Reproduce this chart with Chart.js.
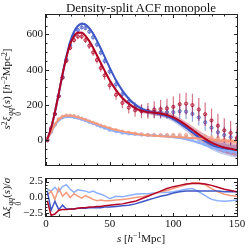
<!DOCTYPE html>
<html>
<head>
<meta charset="utf-8">
<script src="https://cdn.jsdelivr.net/npm/chart.js@4.4.0/dist/chart.umd.min.js"></script>
<style>
  html, body { margin: 0; padding: 0; background: #fff; }
  #wrap { position: relative; width: 249px; height: 249px; overflow: hidden;
          font-family: "Liberation Serif", "DejaVu Serif", serif; color: #111; }
  #top-canvas { position: absolute; left: 0; top: 0; }
  #bottom-canvas { position: absolute; left: 0; top: 170px; }
  .lbl { position: absolute; white-space: nowrap; font-size: 11px; line-height: 1; }
  .rot { transform: translate(-50%, -50%) rotate(-90deg); }
  .ctr { transform: translate(-50%, -50%); }
  .lbl sup { font-size: 0.7em; vertical-align: 0.5em; line-height: 0; }
  .ss { display: inline-flex; flex-direction: column; font-size: 0.7em; line-height: 0.95;
        vertical-align: -0.45em; margin-left: 1px; }
  #title { font-size: 13px; }
</style>
</head>
<body>
<div id="wrap">
  <canvas id="top-canvas" width="249" height="170"></canvas>
  <canvas id="bottom-canvas" width="249" height="79"></canvas>
  <div id="title" class="lbl ctr" style="left:141px; top:7px;">Density-split ACF monopole</div>
  <div class="lbl rot" style="left:12px; top:89px;"><i>s</i><sup>2</sup><i>ξ</i><span class="ss"><i>qq</i><span>0</span></span>(<i>s</i>) [<i>h</i><sup>−2</sup>Mpc<sup>2</sup>]</div>
  <div class="lbl rot" style="left:12px; top:198px;">Δ<i>ξ</i><span class="ss"><i>qq</i><span>0</span></span>(<i>s</i>)/<i>σ</i></div>
  <div class="lbl ctr" style="left:141px; top:238px;"><i>s</i> [<i>h</i><sup>−1</sup>Mpc]</div>
</div>
<script>
// separation bins (h^-1 Mpc)
const sGrid = [1,4,7,10,13,16,19,22,25,28,31,34,37,40,43,46,50,55,60,65,70,75,80,85,90,95,100,105,110,115,120,125,130,135,140,145,150];

// best-fit model, s^2 xi_0
const modelDS1 = [5,70,160,265,375,475,560,615,648,661,656,636,605,565,520,474,412,340,282,236,203,180,165,156,148,137,120,98,72,45,18,-5,-25,-40,-50,-58,-63];
const modelDS2 = [8,45,85,112,127,133,133,130,125,118,111,103,95,86,78,70,60,50,43,38,34,31,29,27,25,22,18,13,6,-3,-14,-26,-38,-48,-56,-62,-66];
const modelDS4 = [8,48,90,118,133,139,139,136,131,124,117,109,101,93,85,78,69,59,51,44,38,33,29,26,24,22,20,18,16,13,10,7,4,1,-2,-5,-8];
const modelDS5 = [5,70,160,265,375,470,545,590,610,610,592,562,525,482,438,395,340,285,240,207,183,168,160,156,152,144,130,110,86,60,33,8,-13,-28,-40,-48,-55];

// model uncertainty (half width of shaded band)
const bandDark = [2,3,4,5,6,7,7,8,8,8,8,8,8,8,8,8,9,9,9,10,10,11,12,13,14,15,16,18,20,22,24,26,28,30,32,33,35];
const bandLight = [2,2,3,3,3,3,3,3,3,3,3,3,3,3,3,3,3,3,3,3,3,3,3,3,4,4,4,5,5,6,7,8,9,10,11,12,13];

// measurements and errors
const dataDS1 = [2,62,148,250,358,458,540,595,625,640,636,616,584,543,497,450,390,318,262,220,190,172,163,160,160,160,160,165,163,150,130,102,72,46,30,18,8];
const errDS1 = [3,5,6,7,8,9,10,11,12,12,13,13,14,15,16,17,18,20,22,24,26,28,30,33,36,38,40,42,44,45,46,47,48,48,48,48,48];
const dataDS2 = [10,48,88,117,130,137,137,133,129,122,115,106,97,88,79,71,59,51,43,39,36,33,31,30,29,28,26,23,18,10,-6,-22,-38,-50,-58,-64,-68];
const errDS2 = [2,3,3,4,4,4,4,4,4,4,4,4,4,4,4,4,4,5,5,5,5,6,6,6,7,7,8,8,9,9,10,10,11,11,12,12,12];
const dataDS4 = [9,50,90,121,135,141,140,138,131,123,116,107,99,91,83,76,68,58,50,44,38,34,31,30,30,30,31,31,31,32,30,22,18,12,4,0,-4];
const errDS4 = [2,3,3,4,4,4,4,4,4,4,4,4,4,4,4,4,4,4,5,5,5,5,5,6,6,6,7,7,7,8,8,8,9,9,10,10,10];
const dataDS5 = [0,68,150,250,355,450,524,568,588,588,568,536,498,455,410,368,312,258,212,185,170,165,167,174,177,181,190,205,208,200,175,148,113,83,57,42,15];
const errDS5 = [4,6,8,10,12,13,14,15,16,16,17,18,19,20,22,24,26,28,30,33,36,40,44,48,52,55,58,60,62,64,65,66,67,68,68,68,68];

// normalised residuals (data - model) / sigma
const resDS1 = [1.0,-2.0,-0.6,-1.9,-1.2,-1.8,-1.8,-1.8,-1.7,-1.7,-1.7,-1.6,-1.6,-1.6,-1.6,-1.5,-1.5,-1.4,-1.3,-1.2,-1.0,-0.7,-0.4,-0.1,0.2,0.4,0.7,0.9,1.0,1.0,1.0,1.0,1.0,1.0,0.9,0.9,0.9];
const resDS2 = [1.3,1.0,1.6,0.9,1.7,2.0,1.3,0.8,1.2,1.1,1.0,0.8,1.0,0.7,0.5,0.3,-0.2,0.2,0.1,0.3,0.5,0.6,0.6,0.7,0.8,0.8,0.9,1.1,1.3,1.4,0.9,0.3,-0.3,-0.5,-0.6,-0.5,-0.4];
const resDS4 = [0.3,1.0,-0.3,1.5,0.2,0.8,0.0,0.6,0.2,-0.1,0.3,0.0,-0.3,-0.5,-0.4,-0.5,-0.5,-0.4,-0.3,-0.2,0.0,0.1,0.3,0.6,0.9,1.1,1.4,1.7,2.0,2.3,2.3,2.0,1.4,0.9,0.5,0.3,0.2];
const resDS5 = [-0.5,-2.8,-2.6,-2.0,-1.9,-1.9,-1.8,-1.8,-1.7,-1.6,-1.6,-1.5,-1.5,-1.4,-1.4,-1.3,-1.2,-1.1,-1.0,-0.8,-0.6,-0.2,0.2,0.6,1.0,1.4,1.7,1.9,2.1,2.2,2.2,2.1,1.9,1.6,1.3,1.1,0.9];

const xTicks = [0, 50, 100, 150];

const FONT = '"Liberation Serif", "DejaVu Serif", serif';
const INK = '#111';

function rgba(hex, a) {
  const n = parseInt(hex.slice(1), 16);
  return `rgba(${n >> 16}, ${(n >> 8) & 255}, ${n & 255}, ${a})`;
}
function xy(ys) {
  return sGrid.map((s, i) => ({ x: s, y: ys[i] }));
}
function minusSign(v, digits) {
  const t = digits ? Math.abs(v).toFixed(digits) : String(Math.abs(v));
  return (v < 0 ? '\u2212' : '') + t;
}

// vertical error bars under each measurement
const errorBars = {
  id: 'errorBars',
  beforeDatasetDraw(chart, args) {
    const ds = chart.data.datasets[args.index];
    if (!ds.errors) return;
    const { ctx, chartArea: a, scales: { x, y } } = chart;
    ctx.save();
    ctx.beginPath();
    ctx.rect(a.left, a.top, a.width, a.height);
    ctx.clip();
    ctx.strokeStyle = ds.barColor;
    ctx.lineWidth = 1.2;
    ctx.beginPath();
    ds.data.forEach((p, i) => {
      const px = x.getPixelForValue(p.x);
      ctx.moveTo(px, y.getPixelForValue(p.y - ds.errors[i]));
      ctx.lineTo(px, y.getPixelForValue(p.y + ds.errors[i]));
    });
    ctx.stroke();
    ctx.restore();
  }
};

// matplotlib-like box with inward ticks on all sides
const frameTicks = {
  id: 'frameTicks',
  afterDraw(chart, args, o) {
    const { ctx, chartArea: a, scales: { x, y } } = chart;
    const L = Math.round(a.left) - 0.5, R = Math.round(a.right) + 0.5;
    const T = Math.round(a.top) - 0.5, B = Math.round(a.bottom) + 0.5;
    const isMajor = (v, step) => Math.abs(v / step - Math.round(v / step)) < 1e-6;
    ctx.save();
    ctx.strokeStyle = '#222';
    ctx.lineWidth = 1;
    ctx.beginPath();
    for (let v = Math.ceil(x.min / o.xMinor - 1e-9) * o.xMinor; v <= x.max + 1e-9; v += o.xMinor) {
      const len = isMajor(v, o.xMajor) ? 3.5 : 2;
      const px = Math.round(x.getPixelForValue(v)) + 0.5;
      ctx.moveTo(px, B); ctx.lineTo(px, B - len);
      ctx.moveTo(px, T); ctx.lineTo(px, T + len);
    }
    for (let v = Math.ceil(y.min / o.yMinor - 1e-9) * o.yMinor; v <= y.max + 1e-9; v += o.yMinor) {
      const len = isMajor(v, o.yMajor) ? 3.5 : 2;
      const py = Math.round(y.getPixelForValue(v)) + 0.5;
      ctx.moveTo(L, py); ctx.lineTo(L + len, py);
      ctx.moveTo(R, py); ctx.lineTo(R - len, py);
    }
    ctx.stroke();
    ctx.strokeRect(L, T, R - L, B - T);
    ctx.restore();
  }
};

const series = [
  { model: modelDS1, data: dataDS1, err: errDS1, band: bandDark, color: '#3f56c6', bandAlpha: 0.3 },
  { model: modelDS2, data: dataDS2, err: errDS2, band: bandLight, color: '#8db0fe', bandAlpha: 0.45 },
  { model: modelDS4, data: dataDS4, err: errDS4, band: bandLight, color: '#f49a7b', bandAlpha: 0.45 },
  { model: modelDS5, data: dataDS5, err: errDS5, band: bandDark, color: '#b40426', bandAlpha: 0.3 },
];

const topSets = [];
series.forEach((s, k) => {
  topSets.push({
    data: xy(s.model.map((m, i) => m + s.band[i])),
    borderWidth: 0, pointRadius: 0, cubicInterpolationMode: 'monotone',
    backgroundColor: rgba(s.color, s.bandAlpha), fill: '+1', order: 300 - k
  });
  topSets.push({
    data: xy(s.model.map((m, i) => m - s.band[i])),
    borderWidth: 0, pointRadius: 0, cubicInterpolationMode: 'monotone',
    fill: false, order: 300 - k
  });
  topSets.push({
    data: xy(s.data), errors: s.err, barColor: rgba(s.color, 0.55),
    showLine: false, pointRadius: 1.6, pointBorderWidth: 0.9,
    pointBackgroundColor: rgba(s.color, 0.3), pointBorderColor: rgba(s.color, 0.85), order: 200 - k
  });
  topSets.push({
    data: xy(s.model), borderColor: s.color, borderWidth: 2, pointRadius: 0,
    cubicInterpolationMode: 'monotone', fill: false, order: 100 - k
  });
});

new Chart(document.getElementById('top-canvas'), {
  type: 'line',
  data: { datasets: topSets },
  options: {
    responsive: false,
    animation: false,
    layout: { padding: { left: 0, right: 12, top: 15, bottom: 0 } },
    plugins: {
      legend: { display: false },
      tooltip: { enabled: false },
      frameTicks: { xMajor: 50, xMinor: 10, yMajor: 200, yMinor: 50 }
    },
    scales: {
      x: {
        type: 'linear', min: 0, max: 150,
        ticks: { display: false }, grid: { display: false, drawTicks: false }, border: { display: false },
        afterFit(s) { s.height = 2; s.paddingLeft = 0; s.paddingRight = 0; }
      },
      y: {
        min: -140, max: 710,
        ticks: {
          stepSize: 200, includeBounds: false, padding: 3, color: INK,
          font: { family: FONT, size: 11 }, callback: v => minusSign(v)
        },
        grid: { display: false, drawTicks: false }, border: { display: false },
        afterFit(s) { s.width = 46; s.paddingTop = 0; s.paddingBottom = 0; }
      }
    }
  },
  plugins: [errorBars, frameTicks]
});

const residuals = [
  { res: resDS2, color: '#8db0fe' },
  { res: resDS4, color: '#f49a7b' },
  { res: resDS1, color: '#3f56c6' },
  { res: resDS5, color: '#b40426' },
];

new Chart(document.getElementById('bottom-canvas'), {
  type: 'line',
  data: {
    datasets: residuals.map((r, k) => ({
      data: xy(r.res), borderColor: r.color, borderWidth: 1.5, pointRadius: 0,
      tension: 0, fill: false, order: 10 - k
    }))
  },
  options: {
    responsive: false,
    animation: false,
    layout: { padding: { left: 0, right: 12, top: 9, bottom: 0 } },
    plugins: {
      legend: { display: false },
      tooltip: { enabled: false },
      frameTicks: { xMajor: 50, xMinor: 10, yMajor: 2.5, yMinor: 0.5 }
    },
    scales: {
      x: {
        type: 'linear', min: 0, max: 150,
        afterBuildTicks(s) { s.ticks = xTicks.map(v => ({ value: v })); },
        ticks: { padding: 2, color: INK, maxRotation: 0, autoSkip: false, font: { family: FONT, size: 11 } },
        grid: { display: false, drawTicks: false }, border: { display: false },
        afterFit(s) { s.height = 33; s.paddingLeft = 0; s.paddingRight = 0; }
      },
      y: {
        min: -2.9, max: 2.9,
        ticks: {
          stepSize: 2.5, includeBounds: false, padding: 3, color: INK,
          font: { family: FONT, size: 11 }, callback: v => minusSign(v, 1)
        },
        grid: { display: false, drawTicks: false }, border: { display: false },
        afterFit(s) { s.width = 46; s.paddingTop = 0; s.paddingBottom = 0; }
      }
    }
  },
  plugins: [frameTicks]
});
</script>
</body>
</html>
